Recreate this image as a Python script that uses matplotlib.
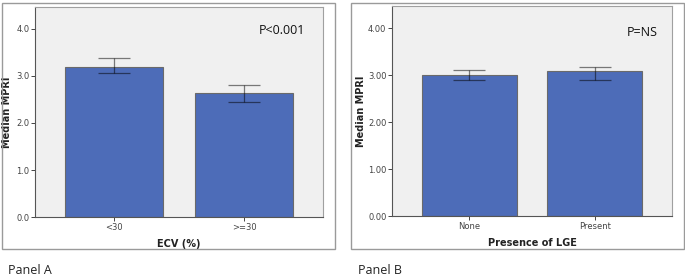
import matplotlib
matplotlib.use("Agg")
import matplotlib.pyplot as plt
from matplotlib.patches import Rectangle

# Data
cats_a = ["<30", ">=30"]
vals_a = [3.19, 2.63]
err_lo_a = [3.07, 2.44]
err_hi_a = [3.38, 2.81]
yticks_a = [0.0, 1.0, 2.0, 3.0, 4.0]
yticklabels_a = ["0.0", "1.0", "2.0", "3.0", "4.0"]

cats_b = ["None", "Present"]
vals_b = [3.01, 3.08]
err_lo_b = [2.90, 2.90]
err_hi_b = [3.11, 3.17]
yticks_b = [0.0, 1.0, 2.0, 3.0, 4.0]
yticklabels_b = ["0.00", "1.00", "2.00", "3.00", "4.00"]

W, H = 685, 278
fig = plt.figure(figsize=(W/100, H/100), dpi=100)
fig.patch.set_facecolor("white")

def px(x0, y0, x1, y1):
    return [x0/W, 1 - y1/H, (x1-x0)/W, (y1-y0)/H]

bar_color = "#4d6cb8"
bg = "#f0f0f0"

def panel(rect, frame, cats, vals, lo, hi, yticks, ylabels, xlabel, ptext, ptext_xy,
          ylim_top, half, ylab_x):
    fx0, fy0, fx1, fy1 = frame
    fig.patches.append(Rectangle((fx0/W, 1-fy1/H), (fx1-fx0)/W, (fy1-fy0)/H,
                                 transform=fig.transFigure, fill=False,
                                 edgecolor="#9a9a9a", linewidth=1.0))
    ax = fig.add_axes(px(*rect))
    ax.set_facecolor(bg)
    x = list(range(len(cats)))
    ax.bar(x, vals, width=0.755, color=bar_color, edgecolor="#6a6a6a", linewidth=0.8, zorder=2)
    yerr = [[v - l for v, l in zip(vals, lo)], [h - v for v, h in zip(vals, hi)]]
    ax.errorbar(x, vals, yerr=yerr, fmt="none", ecolor=(0, 0, 0, 0.5), elinewidth=0.9,
                capsize=11.7, capthick=0.9, zorder=3)
    ax.set_xlim(-half, 1 + half)
    ax.set_ylim(0, ylim_top)
    ax.set_yticks(yticks)
    ax.set_yticklabels(ylabels)
    ax.set_xticks(x)
    ax.set_xticklabels(cats)
    ax.tick_params(axis="both", labelsize=6, colors="#444444", length=3, width=0.7, pad=1)
    for s in ["top", "right"]:
        ax.spines[s].set_color("#a0a0a0")
        ax.spines[s].set_linewidth(0.8)
    for s in ["left", "bottom"]:
        ax.spines[s].set_color("#555555")
        ax.spines[s].set_linewidth(0.8)
    ax.set_ylabel("Median MPRI", fontsize=7, fontweight="bold", color="#222222", va="center")
    ax.yaxis.set_label_coords((ylab_x - rect[0]) / (rect[2] - rect[0]), 0.5)
    ax.set_xlabel(xlabel, fontsize=7, fontweight="bold", color="#222222", labelpad=5)
    ax.text(ptext_xy[0], ptext_xy[1], ptext, transform=fig.transFigure, fontsize=9,
            family="Open Sans", ha="center", va="center", color="#111111")
    return ax

panel((35, 7, 323, 217.3), (2, 3, 335, 249), cats_a, vals_a, err_lo_a, err_hi_a,
      yticks_a, yticklabels_a, "ECV (%)", "P<0.001", (282/W, 1-31/H), 4.46, 0.608, 7.5)
panel((392, 6, 672, 216), (351, 3, 684, 249), cats_b, vals_b, err_lo_b, err_hi_b,
      yticks_b, yticklabels_b, "Presence of LGE", "P=NS", (642/W, 1-32/H), 4.47, 0.612, 361)

fig.text(8/W, 1-270/H, "Panel A", fontsize=9, family="Open Sans", ha="left", va="center", color="#222222")
fig.text(358/W, 1-270/H, "Panel B", fontsize=9, family="Open Sans", ha="left", va="center", color="#222222")

fig.savefig("out.png", dpi=100)
